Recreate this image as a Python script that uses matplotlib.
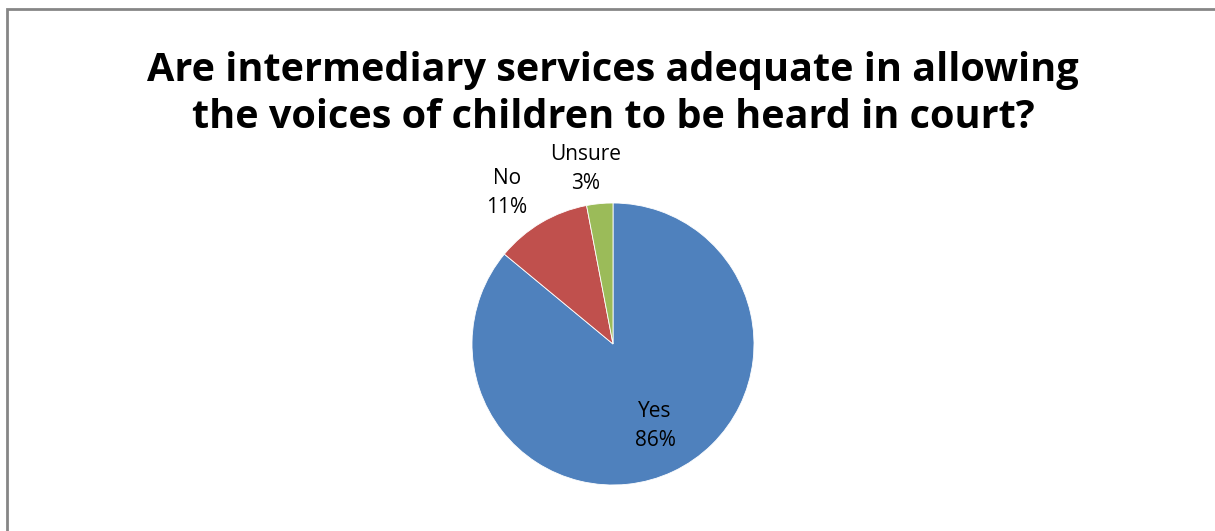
import matplotlib.pyplot as plt
from matplotlib.patches import Rectangle

plt.rcParams['font.family'] = ['Open Sans', 'DejaVu Sans']

title = "Are intermediary services adequate in allowing\nthe voices of children to be heard in court?"
labels = ["Yes", "No", "Unsure"]
shares = [86, 11, 3]
colors = ["#4F81BD", "#C0504D", "#9BBB59"]

W, H = 1215, 531
fig = plt.figure(figsize=(W / 100, H / 100), dpi=100)

# grey chart frame, running off the right and bottom edges
fig.patches.append(Rectangle((6.5 / W, 0 - 0.02), 1.2, 1 - 8.5 / H + 0.02,
                             transform=fig.transFigure, fill=False,
                             edgecolor="#868686", linewidth=2))

fig.text(613 / W, 1 - 94 / H, title, ha="center", va="center",
         fontsize=28.5, fontweight="bold", linespacing=1.3)

# pie centred at (613, 344) px, radius 141 px
r = 141
ax = fig.add_axes([(613 - r) / W, 1 - (344 + r) / H, 2 * r / W, 2 * r / H])
wedges, _ = ax.pie(shares, colors=colors, startangle=90, counterclock=False,
                   wedgeprops=dict(edgecolor="white", linewidth=0.6))
ax.set_xlim(-1, 1)
ax.set_ylim(-1, 1)
ax.set_aspect("auto")

label_pos = [(655, 426), (507, 193), (586, 169)]
for name, val, (px, py) in zip(labels, shares, label_pos):
    fig.text(px / W, 1 - py / H, f"{name}\n{val}%", ha="center", va="center",
             fontsize=15, linespacing=1.55)

fig.savefig("out.png", dpi=100)
